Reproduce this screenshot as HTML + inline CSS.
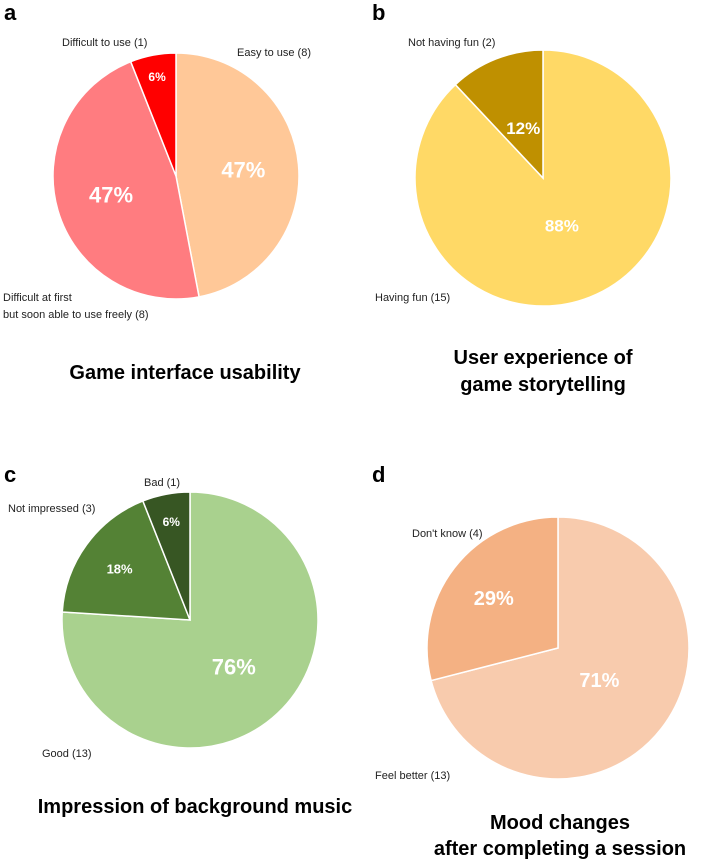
<!DOCTYPE html>
<html><head><meta charset="utf-8"><style>
body{margin:0;background:#fff;width:708px;height:863px;overflow:hidden;font-family:"Liberation Sans",sans-serif}
</style></head><body>
<svg width="708" height="863" xmlns="http://www.w3.org/2000/svg" font-family="Liberation Sans, sans-serif">
<g id="root"></g>
</svg>
<script>
const aPct=[47,47,6];
const aColors=['#FFC898','#FF7C80','#FF0000'];
const bPct=[88,12];
const bColors=['#FFD966','#BF9000'];
const cPct=[76,18,6];
const cColors=['#A9D18E','#548235','#375623'];
const dPct=[71,29];
const dColors=['#F8CBAD','#F4B183'];
const aLabels=['47%','47%','6%'];
const bLabels=['88%','12%'];
const cLabels=['76%','18%','6%'];
const dLabels=['71%','29%'];
const NS='http://www.w3.org/2000/svg';
const root=document.getElementById('root');
function mk(tag,attrs){const e=document.createElementNS(NS,tag);for(const k in attrs)e.setAttribute(k,attrs[k]);root.appendChild(e);return e;}
function txt(x,y,s,size,weight,fill,anchor,name){const t=mk('text',{x:x,y:y,'font-size':size,'font-weight':weight,fill:fill,'text-anchor':anchor});t.textContent=s;


return t;}
function pie(id,cx,cy,r,pct,colors,labels,sizes,lr){
  const tot=pct.reduce((a,b)=>a+b,0);let acc=0;
  pct.forEach((v,i)=>{
    const a0=acc/tot*2*Math.PI;acc+=v;const a1=acc/tot*2*Math.PI;
    const x0=cx+r*Math.sin(a0),y0=cy-r*Math.cos(a0),x1=cx+r*Math.sin(a1),y1=cy-r*Math.cos(a1);
    const large=(a1-a0)>Math.PI?1:0;
    const p=mk('path',{d:`M${cx},${cy}L${x0},${y0}A${r},${r} 0 ${large} 1 ${x1},${y1}Z`,fill:colors[i],stroke:'#fff','stroke-width':1.5});
    
    
    const m=(a0+a1)/2,f=lr[i];
    txt(cx+f*r*Math.sin(m),cy-f*r*Math.cos(m)+sizes[i]*0.35,labels[i],sizes[i],'bold','#fff','middle',id+'-pct-'+(i+1));
  });
}
pie('pie-a',176,176,123,aPct,aColors,aLabels,[22,22,12],[0.55,0.55,0.82]);
pie('pie-b',543,178,128,bPct,bColors,bLabels,[17,17],[0.4,0.42]);
pie('pie-c',190,620,128,cPct,cColors,cLabels,[22,13,12],[0.5,0.68,0.78]);
pie('pie-d',558,648,131,dPct,dColors,dLabels,[20,20],[0.4,0.62]);
const sm=11,c='#222';
txt(4,20,'a',22,'bold','#000','start','panel-a-letter');
txt(372,20,'b',22,'bold','#000','start','panel-b-letter');
txt(4,482,'c',22,'bold','#000','start','panel-c-letter');
txt(372,482,'d',22,'bold','#000','start','panel-d-letter');
txt(62,46,'Difficult to use (1)',sm,'normal',c,'start','label-difficult');
txt(237,56,'Easy to use (8)',sm,'normal',c,'start','label-easy');
txt(3,301,'Difficult at first',sm,'normal',c,'start','label-difficult-first');
txt(3,318,'but soon able to use freely (8)',sm,'normal',c,'start','label-difficult-first-2');
txt(408,46,'Not having fun (2)',sm,'normal',c,'start','label-not-fun');
txt(375,301,'Having fun (15)',sm,'normal',c,'start','label-fun');
txt(144,486,'Bad (1)',sm,'normal',c,'start','label-bad');
txt(8,512,'Not impressed (3)',sm,'normal',c,'start','label-not-impressed');
txt(42,757,'Good (13)',sm,'normal',c,'start','label-good');
txt(412,537,"Don't know (4)",sm,'normal',c,'start','label-dont-know');
txt(375,779,'Feel better (13)',sm,'normal',c,'start','label-feel-better');
txt(185,379,'Game interface usability',20,'bold','#000','middle','title-a');
txt(543,364,'User experience of',20,'bold','#000','middle','title-b-1');
txt(543,391,'game storytelling',20,'bold','#000','middle','title-b-2');
txt(195,813,'Impression of background music',20,'bold','#000','middle','title-c');
txt(560,829,'Mood changes',20,'bold','#000','middle','title-d-1');
txt(560,855,'after completing a session',20,'bold','#000','middle','title-d-2');
</script>
</body></html>
